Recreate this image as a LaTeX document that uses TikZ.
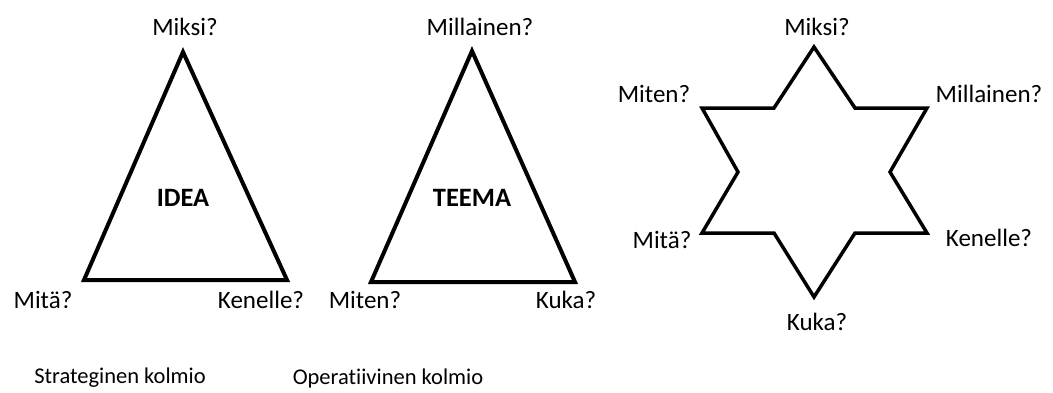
\documentclass[tikz,border=0pt]{standalone}
\usepackage{fontspec}
\setmainfont{Carlito}[Ligatures=NoCommon]
\begin{document}
\begin{tikzpicture}[x=1pt,y=-1pt,
  lbl/.style={font=\fontsize{25}{29}\selectfont, inner sep=0pt},
  captiontext/.style={font=\fontsize{22.5}{27}\selectfont, inner sep=0pt},
  boldtext/.style={font=\fontsize{26.5}{30}\selectfont\bfseries, inner sep=0pt},
  shape line/.style={draw=black, line width=4pt, line join=miter}]
\useasboundingbox (0,0) rectangle (1053,392);
% Triangle 1
\coordinate (t1a) at (183,52);
\coordinate (t1b) at (84,280);
\coordinate (t1c) at (287,280);
\draw[shape line] (t1a) -- (t1b) -- (t1c) -- cycle;
\node[lbl] (t1top) at (185,27) {Miksi?};
\node[lbl] (t1left) at (43,300) {Mitä?};
\node[lbl] (t1right) at (261,300) {Kenelle?};
\node[boldtext] (t1mid) at (183,198) {IDEA};
\node[captiontext] (cap1) at (120,378) {Strateginen kolmio};
% Triangle 2
\coordinate (t2a) at (472,51);
\coordinate (t2b) at (371,282);
\coordinate (t2c) at (575,282);
\draw[shape line] (t2a) -- (t2b) -- (t2c) -- cycle;
\node[lbl] (t2top) at (480,27) {Millainen?};
\node[lbl] (t2left) at (365,300) {Miten?};
\node[lbl] (t2right) at (566,300) {Kuka?};
\node[boldtext] (t2mid) at (472,198) {TEEMA};
\node[captiontext] (cap2) at (388,378) {Operatiivinen kolmio};
% Star
\coordinate (s1) at (814,47);
\coordinate (s2) at (855,108);
\coordinate (s3) at (927,108);
\coordinate (s4) at (890,172);
\coordinate (s5) at (927,233);
\coordinate (s6) at (855,233);
\coordinate (s7) at (814,297);
\coordinate (s8) at (774,233);
\coordinate (s9) at (702,233);
\coordinate (s10) at (738,172);
\coordinate (s11) at (702,108);
\coordinate (s12) at (774,108);
\draw[shape line, line width=3.5pt] (s1) -- (s2) -- (s3) -- (s4) -- (s5) -- (s6) -- (s7) -- (s8) -- (s9) -- (s10) -- (s11) -- (s12) -- cycle;
\node[lbl] (sn1) at (817,27) {Miksi?};
\node[lbl] (sn2) at (654,94) {Miten?};
\node[lbl] (sn3) at (989,94) {Millainen?};
\node[lbl] (sn4) at (662,240) {Mitä?};
\node[lbl] (sn5) at (989,238) {Kenelle?};
\node[lbl] (sn6) at (817,322) {Kuka?};
\end{tikzpicture}
\end{document}
